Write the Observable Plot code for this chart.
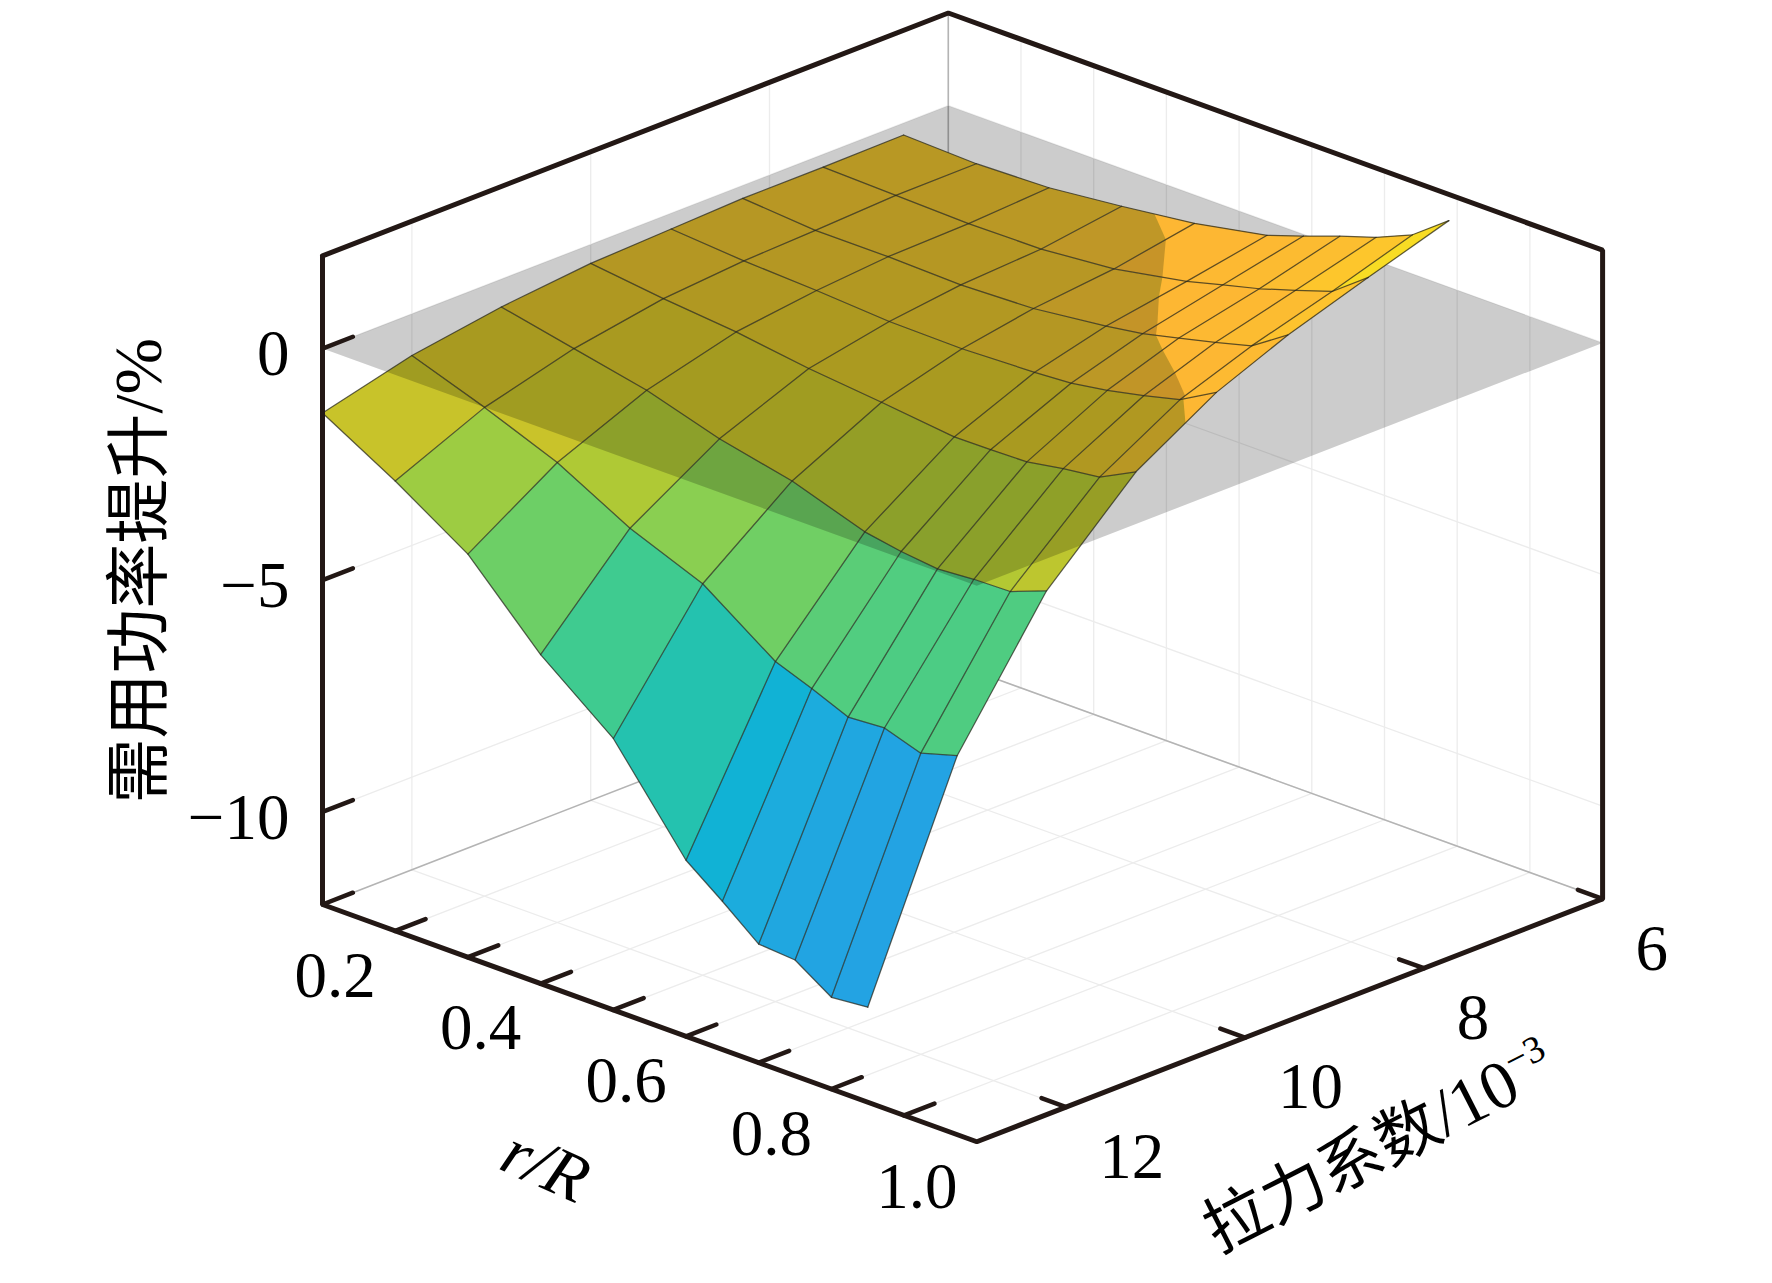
<!DOCTYPE html>
<html>
<head>
<meta charset="utf-8">
<style>html,body{margin:0;padding:0;background:#fff}svg{display:block}</style>
<script src="https://cdn.jsdelivr.net/npm/d3@7"></script>
<script src="https://cdn.jsdelivr.net/npm/@observablehq/plot@0.6"></script>
</head>
<body>
<div id="chart"></div>
<script>
// ---- data ----
const rValues = [0.1, 0.2, 0.3, 0.4, 0.5, 0.6, 0.65, 0.7, 0.75, 0.8, 0.85];
const tValues = [13, 12, 11, 10, 9.1, 8.3, 7.4, 6.5];
const zT130 = [-1.39, -2.29, -3.30, -4.90, -6.14, -8.20, -8.80, -9.44, -9.50, -10.02, -9.95];
const zT120 = [-0.90, -1.45, -2.07, -2.92, -3.55, -4.66, -4.96, -5.29, -5.24, -5.50, -5.27];
const zT110 = [-0.60, -0.93, -1.26, -1.74, -2.08, -2.61, -2.75, -2.84, -2.78, -2.76, -2.46];
const zT100 = [-0.41, -0.60, -0.75, -0.97, -1.13, -1.31, -1.30, -1.28, -1.14, -1.04, -0.64];
const zT91  = [-0.34, -0.46, -0.53, -0.63, -0.65, -0.59, -0.54, -0.41, -0.24, -0.04, 0.40];
const zT83  = [-0.28, -0.40, -0.40, -0.44, -0.38, -0.19, -0.07, 0.12, 0.31, 0.52, 1.04];
const zT74  = [-0.28, -0.32, -0.36, -0.34, -0.20, 0.10, 0.31, 0.51, 0.76, 1.02, 1.61];
const zT65  = [-0.26, -0.31, -0.26, -0.09, 0.11, 0.42, 0.69, 0.97, 1.23, 1.57, 2.16];
const zRows = [zT130, zT120, zT110, zT100, zT91, zT83, zT74, zT65];

const rTicks = [0.1, 0.2, 0.3, 0.4, 0.5, 0.6, 0.7, 0.8, 0.9];
const rLabels = [0.2, 0.4, 0.6, 0.8, 1.0];
const tTicks = [12, 10, 8, 6];
const zTicks = [0, -5, -10];
const rRange = [0.1, 1.0];
const tRange = [13, 6];
const zRange = [-12, 2];

const colorDomain = [-9, -8, -7.4, -7, -6.6, -5.6, -4.4, -3.3, -2.6, -2.0, -1.5, -0.9, -0.4, -0.2, 0.2, 0.9, 1.15, 1.6, 2];
const colorRange = ["#2a9bea", "#269fe6", "#20a6e0", "#1aaedb", "#0fb3d4", "#25c3ae", "#3ecb91", "#6dcf66", "#88cf52", "#afc935", "#c8c32a", "#d4c128", "#e2bd2c", "#ecbe30", "#fdb733", "#fcbe30", "#fdc62c", "#f8dc24", "#f7e024"];

// ---- oblique 3D projection of the axes box ----
const px = (r, t) => 322 + 727 * (r - 0.1) + 89.4 * (13 - t);
const py = (r, t, z) => 904 + 263.6 * (r - 0.1) - 34.7 * (13 - t) - 46.33 * (z + 12);
const pts = (list, id) => list.map(([r, t, z]) => ({id, x: px(r, t), y: py(r, t, z)}));

// ---- surface faces ----
const faces = [], faceRows = [], topRows = [];
for (let j = tValues.length - 2; j >= 0; j--) {
  for (let i = 0; i < rValues.length - 1; i++) {
    const q = [[i, j], [i + 1, j], [i + 1, j + 1], [i, j + 1]].map(([a, b]) => [rValues[a], tValues[b], zRows[b][a]]);
    const v = d3.mean(q, d => d[2]);
    faces.push({q, v});
  }
}
faces.forEach((f, k) => {
  pts(f.q, "f" + k).forEach(p => faceRows.push({...p, v: f.v}));
  // the part of the face lying above the z = 0 plane
  const clip = [];
  f.q.forEach((a, n) => {
    const b = f.q[(n + 1) % 4];
    if (a[2] >= 0) clip.push(a);
    if ((a[2] >= 0) !== (b[2] >= 0)) {
      const u = a[2] / (a[2] - b[2]);
      clip.push([a[0] + u * (b[0] - a[0]), a[1] + u * (b[1] - a[1]), 0]);
    }
  });
  if (clip.length > 2) pts(clip, "c" + k).forEach(p => topRows.push({...p, v: Math.max(f.v, 0.2)}));
});

// ---- mesh lines ----
const mesh = [];
rValues.forEach((r, a) => mesh.push(...pts(tValues.map((t, b) => [r, t, zRows[b][a]]), "r" + a)));
tValues.forEach((t, b) => mesh.push(...pts(rValues.map((r, a) => [r, t, zRows[b][a]]), "t" + b)));

// ---- plane z = 0 ----
const [r0, r1] = rRange, [t0, t1] = tRange, [zMin, zMax] = zRange;
const plane = pts([[r0, t0, 0], [r0, t1, 0], [r1, t1, 0], [r1, t0, 0]], "plane");

// ---- wall and floor grid ----
const grid = [];
let gid = 0;
const seg = (a, b) => grid.push(...pts([a, b], "g" + gid++));
[...rTicks.slice(1)].forEach(r => { seg([r, t0, zMin], [r, t1, zMin]); seg([r, t1, zMin], [r, t1, zMax]); });
tTicks.forEach(t => { seg([r0, t, zMin], [r1, t, zMin]); seg([r0, t, zMin], [r0, t, zMax]); });
zTicks.forEach(z => { seg([r0, t0, z], [r0, t1, z]); seg([r0, t1, z], [r1, t1, z]); });
const backEdges = [
  ...pts([[r0, t0, zMin], [r0, t1, zMin], [r1, t1, zMin]], "floor"),
  ...pts([[r0, t1, zMin], [r0, t1, zMax]], "corner")
];

// ---- box and ticks ----
const box = [
  ...pts([[r0, t0, zMax], [r0, t0, zMin], [r1, t0, zMin], [r1, t1, zMin], [r1, t1, zMax], [r0, t1, zMax], [r0, t0, zMax]], "box")
];
const ticks = [];
rTicks.forEach(r => ticks.push(...pts([[r, t0, zMin], [r, t0 - 0.34, zMin]], "tr" + r)));
tTicks.forEach(t => ticks.push(...pts([[r1, t, zMin], [r1 - 0.034, t, zMin]], "tt" + t)));
zTicks.forEach(z => ticks.push(...pts([[r0, t0, z], [r0, t0 - 0.34, z]], "tz" + z)));

const serif = "'Liberation Serif','Times New Roman',serif";
const cjk = "'Noto Sans CJK SC',sans-serif";
const ink = "#231815";
const axisTitleY = "需用功率提升/%";
const axisTitleT = "拉力系数/10−3";

const chart = Plot.plot({
  width: 1772, height: 1283, margin: 0,
  x: {domain: [0, 1772], range: [0, 1772], axis: null},
  y: {domain: [0, 1283], range: [0, 1283], axis: null},
  color: {type: "linear", domain: colorDomain, range: colorRange, clamp: true},
  style: {background: "#fff"},
  marks: [
    Plot.line(grid, {x: "x", y: "y", z: "id", stroke: "#ececec", strokeWidth: 1.3}),
    Plot.line(backEdges, {x: "x", y: "y", z: "id", stroke: "#b4b4b4", strokeWidth: 1.6}),
    Plot.line(faceRows, {x: "x", y: "y", z: "id", fill: "v"}),
    Plot.line(plane, {x: "x", y: "y", z: "id", fill: "#000", fillOpacity: 0.2}),
    Plot.line(topRows, {x: "x", y: "y", z: "id", fill: "v"}),
    Plot.line(mesh, {x: "x", y: "y", z: "id", stroke: "#26261a", strokeOpacity: 0.72, strokeWidth: 1.25}),
    Plot.line(box, {x: "x", y: "y", z: "id", stroke: ink, strokeWidth: 5, strokeLinejoin: "miter"}),
    Plot.line(ticks, {x: "x", y: "y", z: "id", stroke: ink, strokeWidth: 4.5}),
    Plot.text(rLabels, {x: r => px(r, t0), y: r => py(r, t0, zMin), text: r => r.toFixed(1), dx: -60, dy: 45, fontFamily: serif, fontSize: 65, fill: "#000"}),
    Plot.text(tTicks, {x: t => px(r1, t), y: t => py(r1, t, zMin), text: t => String(t), textAnchor: "start", dx: 33, dy: 50, fontFamily: serif, fontSize: 65, fill: "#000"}),
    Plot.text(zTicks, {x: z => px(r0, t0), y: z => py(r0, t0, z), text: z => (z < 0 ? "−" : "") + Math.abs(z), textAnchor: "end", dx: -33, dy: 6, fontFamily: serif, fontSize: 65, fill: "#000"}),
    Plot.text(["r/R"], {x: () => px(0.55, t0), y: () => py(0.55, t0, zMin), text: d => d, dx: -104, dy: 143, rotate: 24, fontFamily: serif, fontStyle: "italic", fontSize: 68, fill: "#000"}),
    Plot.text([axisTitleT], {x: () => px(r1, 9.5), y: () => py(r1, 9.5, zMin), text: d => d, dx: 90, dy: 128, rotate: -27, fontFamily: cjk, fontSize: 64, fill: "#000"}),
    Plot.text([axisTitleY], {x: () => px(r0, t0), y: () => py(r0, t0, -5.7), text: d => d, dx: -182, dy: -42, rotate: -90, fontFamily: cjk, fontSize: 65, fill: "#000"})
  ]
});

// mixed fonts and the superscript inside the two axis titles, as real text
function styleTitle(full, parts) {
  const node = [...chart.querySelectorAll("text")].find(n => n.textContent === full);
  if (!node) return;
  node.textContent = "";
  parts.forEach(p => {
    const s = document.createElementNS("http://www.w3.org/2000/svg", "tspan");
    s.textContent = p.text;
    s.setAttribute("font-family", p.font);
    if (p.size) s.setAttribute("font-size", p.size);
    if (p.dy) s.setAttribute("dy", p.dy);
    node.appendChild(s);
  });
}
styleTitle(axisTitleY, [{text: "需用功率提升", font: cjk}, {text: "/%", font: serif, size: 68}]);
styleTitle(axisTitleT, [{text: "拉力系数", font: cjk}, {text: "/10", font: serif, size: 68}, {text: "−3", font: serif, size: 38, dy: -26}]);

document.getElementById("chart").appendChild(chart);
</script>
</body>
</html>
